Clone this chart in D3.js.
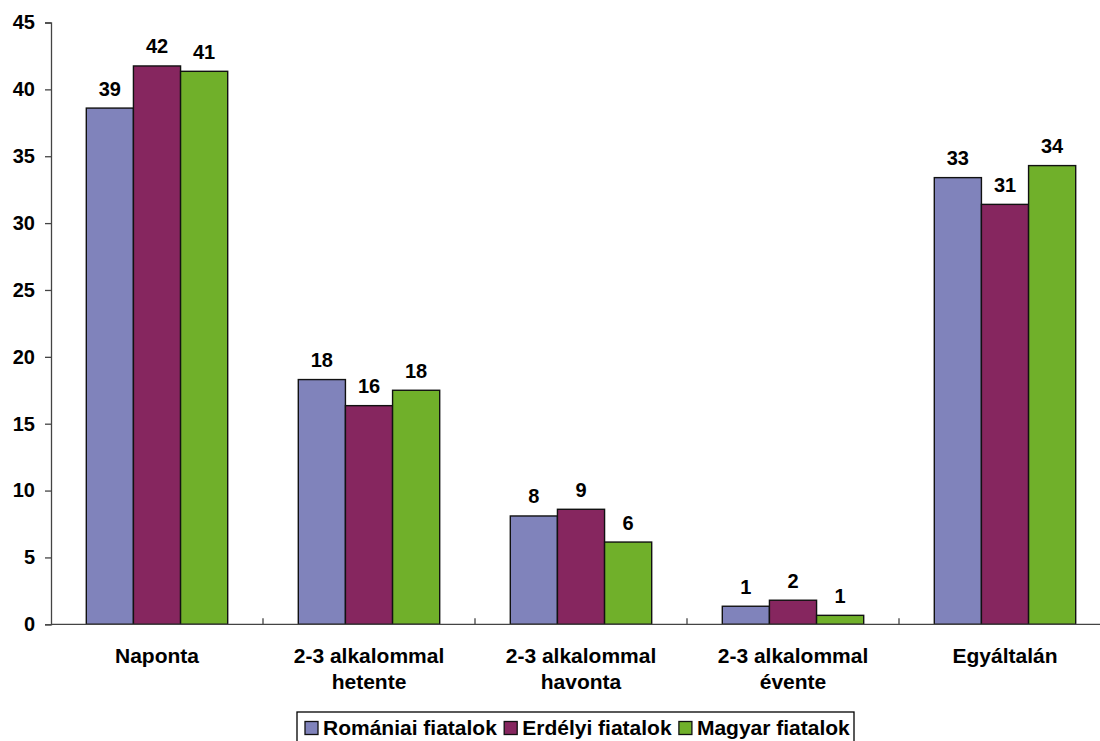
<!DOCTYPE html>
<html>
<head>
<meta charset="utf-8">
<script src="https://cdn.jsdelivr.net/npm/d3@7"></script>
<style>
  html, body { margin: 0; padding: 0; background: #fff; }
  svg { display: block; font-family: "Liberation Sans", Arial, sans-serif; font-weight: bold; }
</style>
</head>
<body>
<svg id="chart" width="1100" height="741"></svg>
<script>
const categories = ["Naponta", "2-3 alkalommal|hetente", "2-3 alkalommal|havonta", "2-3 alkalommal|évente", "Egyáltalán"];
const seriesNames = ["Romániai fiatalok", "Erdélyi fiatalok", "Magyar fiatalok"];
const romaniai = [38.6, 18.3, 8.1, 1.35, 33.4];
const erdelyi = [41.75, 16.35, 8.6, 1.8, 31.4];
const magyar = [41.35, 17.5, 6.15, 0.67, 34.3];
const colors = ["#8083bb", "#86265f", "#70b02a"];
const yTicks = [0, 5, 10, 15, 20, 25, 30, 35, 40, 45];

const seriesValues = [romaniai, erdelyi, magyar];
const svg = d3.select("#chart");

const x0 = d3.scaleBand().domain(categories).range([51, 1111]).padding(0);
const bw = x0.bandwidth();
const x1 = d3.scaleBand().domain(seriesNames).range([bw * 0.1665, bw * 0.8335]).padding(0);
const y = d3.scaleLinear().domain([0, 45]).range([624.3, 22.5]);

// Y axis
const yAxis = svg.append("g").attr("transform", "translate(51,0)")
  .call(d3.axisLeft(y).tickValues(yTicks).tickSize(6).tickPadding(10));
yAxis.select(".domain").attr("stroke", "#444").attr("stroke-width", 1.3);
yAxis.selectAll(".tick line").attr("stroke", "#444").attr("stroke-width", 1.3);
yAxis.selectAll("text").attr("font-size", "20px").attr("font-weight", "bold")
  .attr("fill", "#000").attr("font-family", "'Liberation Sans', Arial, sans-serif");

// Bars
const groups = svg.append("g").selectAll("g").data(categories).join("g")
  .attr("transform", d => `translate(${x0(d)},0)`);

groups.each(function(cat, ci) {
  const g = d3.select(this);
  seriesNames.forEach((s, si) => {
    const v = seriesValues[si][ci];
    g.append("rect")
      .attr("x", x1(s)).attr("width", x1.bandwidth())
      .attr("y", y(v)).attr("height", y(0) - y(v))
      .attr("fill", colors[si]).attr("stroke", "#111").attr("stroke-width", 1.4);
    g.append("text")
      .attr("x", x1(s) + x1.bandwidth() / 2).attr("y", y(v) - 12.5)
      .attr("text-anchor", "middle").attr("font-size", "20px").attr("fill", "#000")
      .text(Math.round(v));
  });
});

// X axis
const xAxis = svg.append("g").attr("transform", `translate(0,${y(0)})`);
xAxis.append("line").attr("x1", 51).attr("x2", 1111).attr("y1", 0).attr("y2", 0)
  .attr("stroke", "#444").attr("stroke-width", 1.3);
xAxis.selectAll("line.tk").data(categories.slice(1)).join("line").attr("class", "tk")
  .attr("x1", d => x0(d)).attr("x2", d => x0(d)).attr("y1", 0).attr("y2", -6)
  .attr("stroke", "#444").attr("stroke-width", 1.3);
xAxis.selectAll("text.cat").data(categories).join("text").attr("class", "cat")
  .attr("text-anchor", "middle").attr("font-size", "21px").attr("fill", "#000")
  .attr("transform", d => `translate(${x0(d) + bw / 2},0)`)
  .each(function(d) {
    const lines = d.split("|");
    d3.select(this).selectAll("tspan").data(lines).join("tspan")
      .attr("x", 0).attr("y", (l, i) => 38.5 + i * 26).text(l => l);
  });

// Legend
const legLeft = 297, legTop = 712, legW = 557;
svg.append("rect").attr("x", legLeft).attr("y", legTop).attr("width", legW).attr("height", 40)
  .attr("fill", "#fff").attr("stroke", "#000").attr("stroke-width", 1.3);
const legend = svg.append("g").attr("transform", `translate(${legLeft + 8},735)`);
const items = legend.selectAll("g").data(seriesNames).join("g");
items.append("rect").attr("width", 13).attr("height", 13).attr("y", -13.5)
  .attr("fill", (d, i) => colors[i]).attr("stroke", "#111").attr("stroke-width", 1.3);
items.append("text").attr("x", 18).attr("y", 0).attr("font-size", "21px").attr("fill", "#000").text(d => d);
let cx = 0;
items.each(function() {
  const w = this.getBBox().width;
  d3.select(this).attr("transform", `translate(${cx},0)`);
  cx += w + 7;
});
</script>
</body>
</html>
